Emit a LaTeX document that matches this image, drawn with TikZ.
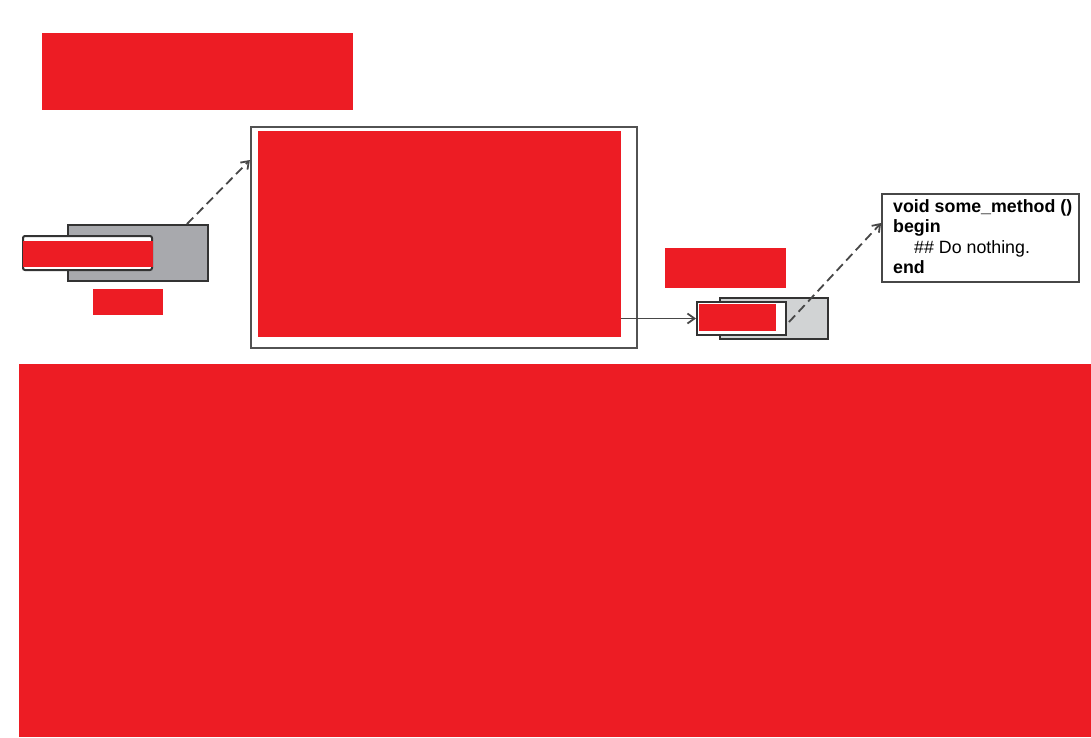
\documentclass[tikz,border=0pt]{standalone}
\usepackage{fontspec}
\setmainfont{Liberation Sans}
\usetikzlibrary{arrows.meta}
\definecolor{redact}{RGB}{237,28,36}
\definecolor{boxgray}{RGB}{168,169,173}
\definecolor{lightgray}{RGB}{209,211,212}
\definecolor{edge}{RGB}{51,51,51}

\begin{document}
\begin{tikzpicture}[x=1pt,y=-1pt,
  redbox/.style={fill=redact,inner sep=0pt},
  holder/.style={draw=edge,line width=2pt,inner sep=0pt},
  link/.style={draw=edge!90,line width=1.8pt,-{Straight Barb[length=7pt,width=10pt]}},
  dlink/.style={link,dash pattern=on 9pt off 5pt}]
 \path[use as bounding box] (0,0) rectangle (1091,737);
 % top heading (hidden)
 \node[redbox,minimum width=311pt,minimum height=77pt] (head) at (197.5,71.5){};
 % left part
 \node[holder,fill=boxgray,minimum width=140pt,minimum height=56pt] (lbox) at (138,253){};
 \node[holder,fill=white,rounded corners=2pt,minimum width=129pt,minimum height=34pt] (lin) at (87.5,253){};
 \node[redbox,minimum width=130pt,minimum height=26pt] (linred) at (87.5,254){};
 \node[redbox,minimum width=70pt,minimum height=26pt] (llabel) at (128,302){};
 % big frame
 \node[draw=edge!85,line width=2.2pt,fill=white,inner sep=0pt,minimum width=386pt,minimum height=221pt] (frame) at (444,237.5){};
 \node[redbox,minimum width=363pt,minimum height=206pt] (framered) at (439.5,234){};
 % right part
 \node[redbox,minimum width=121pt,minimum height=40pt] (rlabel) at (725.5,268){};
 \node[holder,fill=lightgray,minimum width=108pt,minimum height=41pt] (rbox) at (774,318.5){};
 \node[holder,fill=white,minimum width=89pt,minimum height=33pt] (rin) at (741.5,318.5){};
 \node[redbox,minimum width=77pt,minimum height=27pt] (rinred) at (737.5,317.5){};
 \node[draw=edge!90,line width=1.8pt,fill=white,inner sep=0pt,minimum width=197pt,minimum height=88pt] (code) at (980.5,238){};
 \node[anchor=north west,inner sep=0pt,align=left,font=\fontsize{17.8}{20.5}\selectfont] (codetxt) at (893,199)
   {\textbf{void some\_method ()}\\\textbf{begin}\\\hspace*{21pt}\#\# Do nothing.\\\textbf{end}};
 % connectors
 \draw[dlink] ([xshift=49pt]lbox.north) -- ([yshift=77.5pt]frame.west);
 \draw[link] (framered.east |- rin.west) -- (rin.west);
 \draw[dlink] ([xshift=2pt,yshift=-3.5pt]rin.east) -- ([yshift=15pt]code.west);
 % lower part (hidden)
 \node[redbox,minimum width=1072pt,minimum height=373pt] (lower) at (555,550.5){};
\end{tikzpicture}
\end{document}
